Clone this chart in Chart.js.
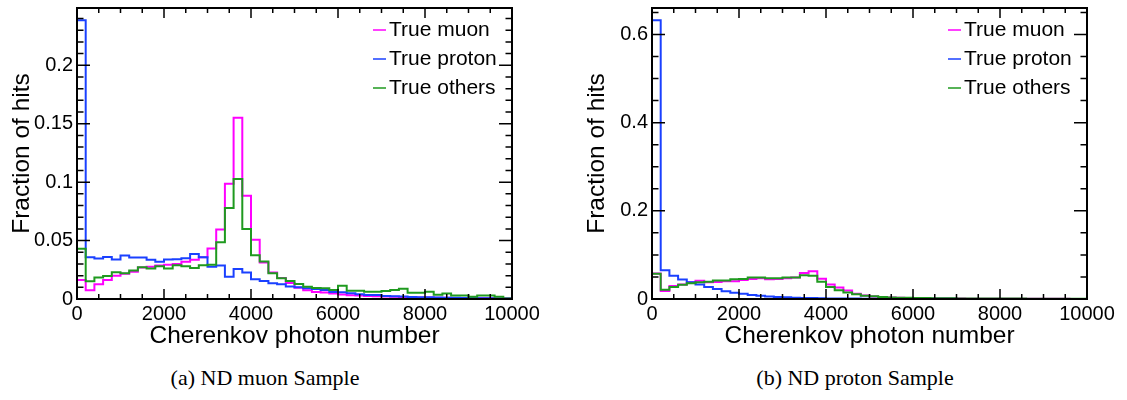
<!DOCTYPE html>
<html>
<head>
<meta charset="utf-8">
<script src="https://cdn.jsdelivr.net/npm/chart.js@4.4.0/dist/chart.umd.min.js"></script>
<style>
  body { margin: 0; background: #fff; width: 1127px; height: 400px; position: relative; overflow: hidden; }
  canvas { position: absolute; top: 0; }
  #chart-a { left: 0; }
  #chart-b { left: 575px; }
  .caption { position: absolute; top: 365px; font-family: "Liberation Serif", "DejaVu Serif", serif; font-size: 22px; line-height: 26px; transform: translateX(-50%); white-space: nowrap; color: #000; }
</style>
</head>
<body>
<canvas id="chart-a" width="552" height="360"></canvas>
<canvas id="chart-b" width="552" height="360"></canvas>
<div class="caption" style="left:265px">(a) ND muon Sample</div>
<div class="caption" style="left:855px">(b) ND proton Sample</div>
<script>
// histogram binning: 50 bins of 200 photons
const binWidth = 200;
const xMin = 0;
const xMax = 10000;
const xTickStep = 2000;

const seriesNames = ['True muon', 'True proton', 'True others'];
const seriesColors = ['#ff00ff', '#1a40ff', '#1f9a1f'];

// (a) ND muon sample, fraction of hits per bin
const muonSampleMuon = [
  0.0163, 0.0075, 0.0126, 0.0163, 0.0200, 0.0215, 0.0234, 0.0269, 0.0277, 0.0286,
  0.0292, 0.0300, 0.0318, 0.0335, 0.0358, 0.0432, 0.0595, 0.0987, 0.1550, 0.0884,
  0.0506, 0.0312, 0.0226, 0.0180, 0.0137, 0.0097, 0.0075, 0.0060, 0.0055, 0.0048,
  0.0038, 0.0033, 0.0030, 0.0026, 0.0023, 0.0021, 0.0019, 0.0017, 0.0015, 0.0013,
  0.0012, 0.0011, 0.0010, 0.0009, 0.0008, 0.0007, 0.0007, 0.0006, 0.0005, 0.0004
];
const muonSampleProton = [
  0.2386, 0.0358, 0.0346, 0.0360, 0.0337, 0.0372, 0.0355, 0.0355, 0.0335, 0.0318,
  0.0337, 0.0340, 0.0349, 0.0386, 0.0358, 0.0277, 0.0286, 0.0191, 0.0257, 0.0226,
  0.0169, 0.0154, 0.0134, 0.0126, 0.0106, 0.0100, 0.0092, 0.0086, 0.0077, 0.0060,
  0.0057, 0.0049, 0.0040, 0.0035, 0.0034, 0.0026, 0.0024, 0.0021, 0.0018, 0.0016,
  0.0014, 0.0012, 0.0011, 0.0010, 0.0009, 0.0008, 0.0007, 0.0006, 0.0005, 0.0004
];
const muonSampleOthers = [
  0.0429, 0.0152, 0.0183, 0.0197, 0.0229, 0.0220, 0.0243, 0.0272, 0.0260, 0.0280,
  0.0262, 0.0289, 0.0280, 0.0266, 0.0289, 0.0294, 0.0486, 0.0778, 0.1027, 0.0600,
  0.0375, 0.0320, 0.0220, 0.0177, 0.0154, 0.0128, 0.0104, 0.0094, 0.0091, 0.0077,
  0.0114, 0.0071, 0.0071, 0.0063, 0.0063, 0.0069, 0.0077, 0.0088, 0.0054, 0.0054,
  0.0063, 0.0037, 0.0046, 0.0031, 0.0031, 0.0020, 0.0030, 0.0031, 0.0020, 0.0004
];

// (b) ND proton sample
const protonSampleMuon = [
  0.0580, 0.0180, 0.0295, 0.0330, 0.0380, 0.0415, 0.0380, 0.0386, 0.0400, 0.0405,
  0.0430, 0.0455, 0.0470, 0.0447, 0.0455, 0.0470, 0.0490, 0.0590, 0.0630, 0.0460,
  0.0330, 0.0260, 0.0195, 0.0120, 0.0078, 0.0055, 0.0040, 0.0032, 0.0026, 0.0021,
  0.0018, 0.0015, 0.0013, 0.0011, 0.0010, 0.0009, 0.0008, 0.0008, 0.0007, 0.0007,
  0.0006, 0.0006, 0.0005, 0.0005, 0.0004, 0.0004, 0.0003, 0.0003, 0.0002, 0.0002
];
const protonSampleProton = [
  0.6320, 0.0650, 0.0530, 0.0440, 0.0380, 0.0330, 0.0270, 0.0225, 0.0175, 0.0140,
  0.0120, 0.0092, 0.0072, 0.0056, 0.0045, 0.0038, 0.0030, 0.0025, 0.0020, 0.0017,
  0.0014, 0.0012, 0.0010, 0.0009, 0.0008, 0.0007, 0.0006, 0.0006, 0.0005, 0.0005,
  0.0004, 0.0004, 0.0003, 0.0003, 0.0003, 0.0002, 0.0002, 0.0002, 0.0002, 0.0002,
  0.0001, 0.0001, 0.0001, 0.0001, 0.0001, 0.0001, 0.0001, 0.0001, 0.0001, 0.0001
];
const protonSampleOthers = [
  0.0570, 0.0210, 0.0270, 0.0326, 0.0356, 0.0380, 0.0394, 0.0417, 0.0420, 0.0447,
  0.0455, 0.0485, 0.0485, 0.0470, 0.0470, 0.0485, 0.0490, 0.0540, 0.0530, 0.0390,
  0.0270, 0.0200, 0.0150, 0.0106, 0.0076, 0.0060, 0.0045, 0.0036, 0.0030, 0.0026,
  0.0023, 0.0020, 0.0018, 0.0016, 0.0015, 0.0014, 0.0013, 0.0012, 0.0011, 0.0010,
  0.0010, 0.0009, 0.0009, 0.0008, 0.0008, 0.0007, 0.0007, 0.0006, 0.0006, 0.0005
];

Chart.defaults.font.family = '"Liberation Sans", Arial, sans-serif';
Chart.defaults.color = '#000';

// turn bin contents into the outline of a step histogram
function histPoints(values) {
  const pts = [{ x: xMin, y: 0 }];
  values.forEach((v, i) => {
    pts.push({ x: xMin + i * binWidth, y: v });
    pts.push({ x: xMin + (i + 1) * binWidth, y: v });
  });
  pts.push({ x: xMax, y: 0 });
  return pts;
}

function yLabel(v) {
  return String(parseFloat(v.toFixed(3)));
}

// ROOT style frame: box plus inward ticks on all four sides
const rootFrame = {
  id: 'rootFrame',
  afterDatasetsDraw(chart, args, opts) {
    const ctx = chart.ctx;
    const a = chart.chartArea;
    const xs = chart.scales.x;
    const ys = chart.scales.y;
    ctx.save();
    ctx.strokeStyle = '#000';
    ctx.lineWidth = 1.5;
    ctx.beginPath();
    const nx = Math.round((xMax - xMin) / opts.xMinor);
    for (let i = 0; i <= nx; i++) {
      const px = xs.getPixelForValue(xMin + i * opts.xMinor);
      const len = i % opts.xPer === 0 ? 10 : 5;
      ctx.moveTo(px, a.bottom); ctx.lineTo(px, a.bottom - len);
      ctx.moveTo(px, a.top); ctx.lineTo(px, a.top + len);
    }
    const ny = Math.floor(ys.max / opts.yMinor + 1e-6);
    for (let i = 0; i <= ny; i++) {
      const py = ys.getPixelForValue(i * opts.yMinor);
      const len = i % opts.yPer === 0 ? 13 : 6.5;
      ctx.moveTo(a.left, py); ctx.lineTo(a.left + len, py);
      ctx.moveTo(a.right, py); ctx.lineTo(a.right - len, py);
    }
    ctx.stroke();
    ctx.lineWidth = 2;
    ctx.strokeRect(a.left, a.top, a.right - a.left, a.bottom - a.top);
    ctx.restore();
  }
};

// legend box in the top right corner, no border
const rootLegend = {
  id: 'rootLegend',
  afterDraw(chart) {
    const ctx = chart.ctx;
    const a = chart.chartArea;
    ctx.save();
    ctx.font = '21px "Liberation Sans", Arial, sans-serif';
    ctx.textBaseline = 'middle';
    ctx.fillStyle = '#000';
    seriesNames.forEach((name, i) => {
      const y = a.top + 22 + i * 29;
      ctx.strokeStyle = seriesColors[i];
      ctx.lineWidth = 1.5;
      ctx.beginPath();
      ctx.moveTo(a.right - 139, y);
      ctx.lineTo(a.right - 126, y);
      ctx.stroke();
      ctx.fillText(name, a.right - 123, y);
    });
    ctx.restore();
  }
};

function makeChart(id, series, yMax, yStep, yMinor) {
  const ctx = document.getElementById(id).getContext('2d');
  return new Chart(ctx, {
    type: 'line',
    data: {
      datasets: series.map((values, i) => ({
        label: seriesNames[i],
        data: histPoints(values),
        borderColor: seriesColors[i],
        borderWidth: 2,
        pointRadius: 0,
        fill: false,
        tension: 0,
        order: 3 - i
      }))
    },
    options: {
      responsive: false,
      animation: false,
      events: [],
      layout: { padding: { left: 0, top: 8, right: 40, bottom: 9 } },
      scales: {
        x: {
          type: 'linear',
          min: xMin,
          max: xMax,
          grid: { display: false, drawTicks: false },
          border: { display: false },
          ticks: {
            stepSize: xTickStep,
            includeBounds: false,
            autoSkip: false,
            maxRotation: 0,
            padding: 3,
            font: { size: 20 },
            callback: v => String(v)
          },
          title: {
            display: true,
            text: 'Cherenkov photon number',
            font: { size: 24.5 },
            padding: { top: 0, bottom: 0 }
          },
          afterFit(s) { s.height = 52; s.paddingLeft = 0; s.paddingRight = 0; }
        },
        y: {
          type: 'linear',
          min: 0,
          max: yMax,
          grid: { display: false, drawTicks: false },
          border: { display: false },
          ticks: {
            stepSize: yStep,
            includeBounds: false,
            padding: 4,
            font: { size: 20 },
            callback: yLabel
          },
          title: {
            display: true,
            text: 'Fraction of hits',
            font: { size: 24.5 },
            padding: { top: 7.6, bottom: 0 }
          },
          afterFit(s) { s.width = 77; s.paddingTop = 0; s.paddingBottom = 0; }
        }
      },
      plugins: {
        legend: { display: false },
        tooltip: { enabled: false },
        rootFrame: { xMinor: 500, xPer: 4, yMinor: yMinor, yPer: Math.round(yStep / yMinor) }
      }
    },
    plugins: [rootFrame, rootLegend]
  });
}

makeChart('chart-a', [muonSampleMuon, muonSampleProton, muonSampleOthers], 0.249, 0.05, 0.01);
makeChart('chart-b', [protonSampleMuon, protonSampleProton, protonSampleOthers], 0.66, 0.2, 0.05);
</script>
</body>
</html>
